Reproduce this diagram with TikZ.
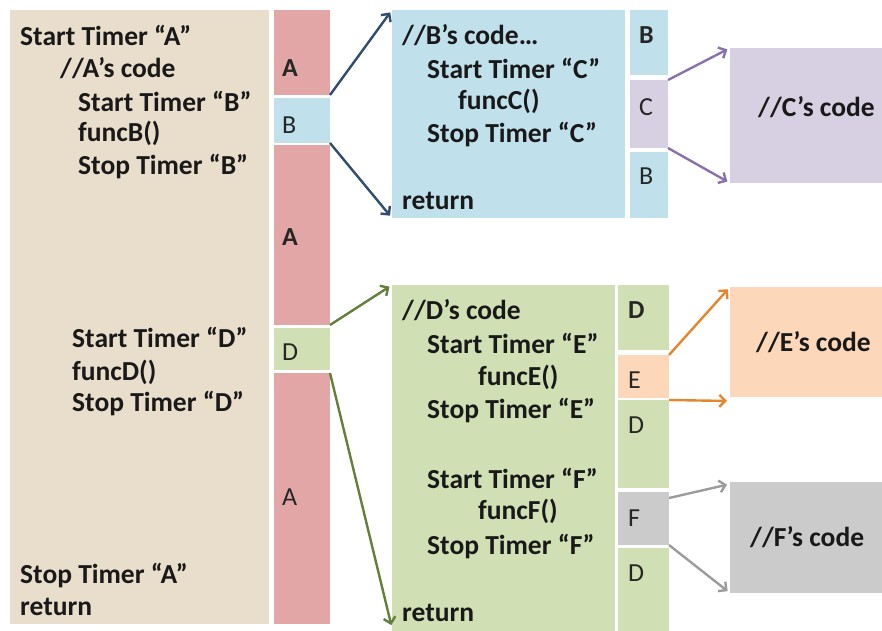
\documentclass[tikz,border=0pt]{standalone}
\usepackage{fontspec}
\setmainfont{Carlito}
\usetikzlibrary{arrows.meta}
\definecolor{beige}{HTML}{E9DECB}
\definecolor{pinkA}{HTML}{E3A6A6}
\definecolor{blueB}{HTML}{C0E1EB}
\definecolor{purpC}{HTML}{D7CFE2}
\definecolor{greenD}{HTML}{D0E0B4}
\definecolor{orangeE}{HTML}{FCD7B9}
\definecolor{grayF}{HTML}{CBCBCB}
\definecolor{arrBlue}{HTML}{2F4D6E}
\definecolor{arrPurp}{HTML}{8A70AC}
\definecolor{arrGreen}{HTML}{647F3A}
\definecolor{arrOrange}{HTML}{E5862F}
\definecolor{arrGray}{HTML}{9C9C9C}
\tikzset{
  blk/.style={anchor=north west, inner sep=0pt, outer sep=0pt, draw=none},
  code/.style={anchor=west, inner sep=0pt, font=\fontsize{27.5}{30}\selectfont\bfseries, text=black!90},
  lbl/.style={anchor=west, inner sep=0pt, font=\fontsize{26}{28}\selectfont, text=black!85},
  lblb/.style={lbl, font=\fontsize{26}{28}\selectfont\bfseries},
  arr/.style={line width=2.4pt, -{Straight Barb[length=6pt,width=12pt,line width=2.4pt]}, shorten >=3pt},
}
\begin{document}
\begin{tikzpicture}[x=1pt,y=-1pt]
\useasboundingbox (0,0) rectangle (882,630);
% left box A
\node[blk, fill=beige, minimum width=259pt, minimum height=614pt] (abox) at (10,10) {};
\node[blk, fill=pinkA, minimum width=56pt, minimum height=85pt] (a1) at (274,10) {};
\node[blk, fill=blueB, minimum width=56pt, minimum height=45pt] (b1) at (274,98) {};
\node[blk, fill=pinkA, minimum width=56pt, minimum height=180pt] (a2) at (274,145) {};
\node[blk, fill=greenD, minimum width=56pt, minimum height=42pt] (d1) at (274,328) {};
\node[blk, fill=pinkA, minimum width=56pt, minimum height=251pt] (a3) at (274,373) {};
\node[lblb] (la1) at (282,68) {A};
\node[lbl] (lb1) at (282,125) {B};
\node[lblb] (la2) at (282,237) {A};
\node[lbl] (ld1) at (282,352) {D};
\node[lbl] (la3) at (282,497) {A};
\node[code] (t1) at (20,35) {Start Timer “A”};
\node[code] (t2) at (60,68) {//A’s code};
\node[code] (t3) at (78,101) {Start Timer “B”};
\node[code] (t4) at (78,133) {funcB()};
\node[code] (t5) at (78,167) {Stop Timer “B”};
\node[code] (t6) at (72,337) {Start Timer “D”};
\node[code] (t7) at (72,372) {funcD()};
\node[code] (t8) at (72,403) {Stop Timer “D”};
\node[code] (t9) at (20,575) {Stop Timer “A”};
\node[code] (t10) at (20,607) {return};
% B box
\node[blk, fill=blueB, minimum width=233pt, minimum height=208pt] (bbox) at (392,10) {};
\node[blk, fill=blueB, minimum width=38pt, minimum height=65pt] (bc1) at (630,10) {};
\node[blk, fill=purpC, minimum width=38pt, minimum height=68pt] (cc) at (630,80) {};
\node[blk, fill=blueB, minimum width=38pt, minimum height=66pt] (bc2) at (630,152) {};
\node[lblb] (lb2) at (639,35) {B};
\node[lbl] (lc) at (639,107) {C};
\node[lbl] (lb3) at (639,176) {B};
\node[code] (u1) at (402,35) {//B’s code…};
\node[code] (u2) at (427,68) {Start Timer “C”};
\node[code] (u3) at (458,101) {funcC()};
\node[code] (u4) at (427,135) {Stop Timer “C”};
\node[code] (u5) at (402,201) {return};
% C box
\node[blk, fill=purpC, minimum width=160pt, minimum height=135pt] (cbox) at (730,48) {};
\node[code] (cl) at (758,107) {//C’s code};
% D box
\node[blk, fill=greenD, minimum width=223pt, minimum height=350pt] (dbox) at (392,285) {};
\node[blk, fill=greenD, minimum width=51pt, minimum height=65pt] (dc1) at (618,285) {};
\node[blk, fill=orangeE, minimum width=51pt, minimum height=43pt] (ec) at (618,355) {};
\node[blk, fill=greenD, minimum width=51pt, minimum height=88pt] (dc2) at (618,400) {};
\node[blk, fill=grayF, minimum width=51pt, minimum height=53pt] (fc) at (618,492) {};
\node[blk, fill=greenD, minimum width=51pt, minimum height=90pt] (dc3) at (618,548) {};
\node[lblb] (ld2) at (628,310) {D};
\node[lbl] (le) at (628,380) {E};
\node[lbl] (ld3) at (628,425) {D};
\node[lbl] (lf) at (628,518) {F};
\node[lbl] (ld4) at (628,573) {D};
\node[code] (v1) at (402,310) {//D’s code};
\node[code] (v2) at (427,343) {Start Timer “E”};
\node[code] (v3) at (478,377) {funcE()};
\node[code] (v4) at (427,410) {Stop Timer “E”};
\node[code] (v5) at (427,478) {Start Timer “F”};
\node[code] (v6) at (478,511) {funcF()};
\node[code] (v7) at (427,546) {Stop Timer “F”};
\node[code] (v8) at (402,613) {return};
% E and F boxes
\node[blk, fill=orangeE, minimum width=160pt, minimum height=110pt] (ebox) at (730,287) {};
\node[code] (el) at (756,342) {//E’s code};
\node[blk, fill=grayF, minimum width=160pt, minimum height=111pt] (fbox) at (730,482) {};
\node[code] (fl) at (750,537) {//F’s code};
\coordinate (dend) at (392,628);
% arrows
\draw[arr, arrBlue] (a1.south east) -- (bbox.north west);
\draw[arr, arrBlue] (b1.south east) -- (bbox.south west);
\draw[arr, arrPurp] (cc.north east) -- (cbox.north west);
\draw[arr, arrPurp] (cc.south east) -- (cbox.south west);
\draw[arr, arrGreen] (a2.south east) -- (dbox.north west);
\draw[arr, arrGreen] (a3.north east) -- (dend);
\draw[arr, arrOrange] (ec.north east) -- (ebox.north west);
\draw[arr, arrOrange] ([yshift=-2pt]ec.south east) -- ([yshift=-4pt]ebox.south west);
\draw[arr, arrGray] ([yshift=-10pt]dc2.south east) -- ([yshift=-2pt]fbox.north west);
\draw[arr, arrGray] (fc.south east) -- (fbox.south west);
\end{tikzpicture}
\end{document}
